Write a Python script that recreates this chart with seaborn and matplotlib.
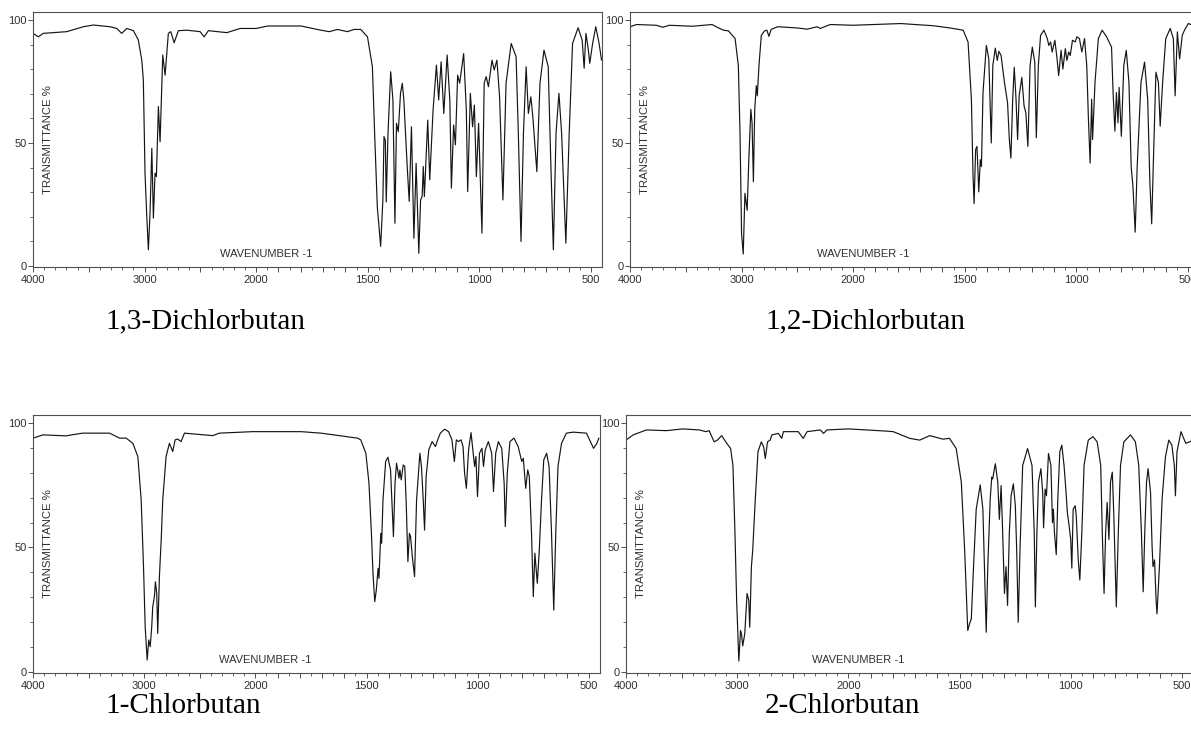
import numpy as np
import pandas as pd
import matplotlib
matplotlib.use("Agg")
import matplotlib.pyplot as plt
from matplotlib.ticker import FixedLocator, FuncFormatter
import seaborn as sns

# ---------------- data ----------------
titles = ["1,3-Dichlorbutan", "1,2-Dichlorbutan", "1-Chlorbutan", "2-Chlorbutan"]

wn_13 = [4000, 3952, 3908, 3818, 3698, 3549, 3459, 3309, 3249, 3205, 3160, 3100, 3056, 3025, 3011,
         2996, 2980, 2966, 2951, 2935, 2921, 2906, 2894, 2876, 2861, 2837, 2816, 2787, 2765, 2735,
         2697, 2622, 2502, 2466, 2428, 2263, 2143, 2000, 1948, 1799, 1710, 1673, 1635, 1591, 1561,
         1531, 1501, 1479, 1469, 1457, 1442, 1432, 1427, 1421, 1417, 1409, 1397, 1387, 1378, 1371,
         1363, 1353, 1345, 1338, 1323, 1314, 1304, 1293, 1283, 1271, 1263, 1256, 1251, 1246, 1231,
         1222, 1207, 1192, 1182, 1171, 1159, 1144, 1132, 1125, 1115, 1107, 1097, 1088, 1070, 1058,
         1052, 1040, 1030, 1022, 1013, 1003, 988, 978, 969, 959, 943, 933, 921, 909, 894, 880, 857,
         835, 825, 813, 802, 790, 780, 769, 760, 742, 728, 710, 691, 679, 668, 656, 643, 631, 612,
         597, 582, 557, 539, 530, 522, 512, 505, 492, 478, 463, 452]
t_13 = [94.6, 93.2, 94.6, 94.9, 95.3, 97.3, 98.0, 97.3, 96.6, 94.6, 96.6, 95.7, 91.9, 83.7, 75.6,
        37.7, 20.0, 6.5, 21.4, 47.8, 19.4, 37.7, 36.3, 64.8, 50.5, 85.8, 77.6, 94.6, 95.3, 90.8,
        95.7, 95.9, 95.3, 93.2, 95.7, 94.9, 96.6, 96.6, 97.6, 97.6, 95.9, 95.3, 96.2, 95.3, 96.2,
        96.2, 93.2, 81.0, 54.0, 24.0, 7.9, 26.8, 52.6, 51.0, 26.0, 54.0, 79.0, 67.5, 17.3, 58.0,
        54.6, 70.2, 74.3, 67.5, 40.4, 26.2, 56.6, 11.2, 41.7, 5.1, 26.8, 28.2, 40.4, 28.2, 59.3,
        35.0, 63.4, 81.7, 67.5, 83.0, 62.0, 85.8, 67.5, 31.6, 57.3, 49.2, 77.6, 74.3, 86.4, 63.4,
        30.2, 70.2, 56.6, 65.4, 36.3, 58.0, 13.3, 74.3, 77.0, 72.9, 83.7, 79.7, 83.7, 68.8, 26.8,
        74.3, 90.5, 85.1, 54.0, 9.9, 54.0, 81.0, 62.0, 68.8, 60.7, 38.3, 74.3, 87.8, 81.0, 40.4,
        6.5, 54.0, 70.2, 54.0, 9.2, 54.0, 90.5, 96.9, 91.9, 80.4, 94.6, 88.5, 82.4, 90.5, 97.3,
        90.5, 83.7]

wn_12 = [4000, 3941, 3764, 3706, 3647, 3441, 3265, 3206, 3162, 3117, 3058, 3029, 3014, 3000, 2985,
         2970, 2962, 2950, 2935, 2917, 2906, 2894, 2882, 2868, 2859, 2844, 2823, 2794, 2773, 2755,
         2735, 2676, 2500, 2411, 2323, 2294, 2206, 2000, 1787, 1640, 1566, 1507, 1485, 1470, 1463,
         1458, 1451, 1445, 1437, 1430, 1425, 1418, 1403, 1392, 1381, 1374, 1363, 1354, 1347, 1337,
         1322, 1308, 1300, 1293, 1285, 1278, 1270, 1263, 1256, 1244, 1234, 1226, 1217, 1207, 1197,
         1186, 1179, 1170, 1160, 1145, 1130, 1123, 1115, 1108, 1096, 1086, 1079, 1068, 1060, 1049,
         1042, 1034, 1027, 1017, 1005, 997, 986, 975, 963, 953, 946, 938, 931, 927, 916, 901, 884,
         864, 853, 842, 835, 827, 820, 813, 808, 798, 787, 776, 764, 754, 746, 736, 727, 720, 710,
         694, 680, 670, 662, 653, 643, 632, 624, 613, 599, 579, 565, 557, 547, 537, 525, 515, 498,
         480, 450]
t_12 = [97.3, 98.2, 97.9, 97.1, 97.9, 97.5, 98.2, 96.8, 95.9, 95.6, 92.5, 81.5, 54.1, 13.0, 4.8,
        29.5, 26.7, 22.6, 43.2, 63.7, 58.2, 34.2, 63.7, 73.3, 69.2, 81.5, 93.8, 95.6, 95.9, 93.4,
        96.2, 97.3, 96.8, 96.3, 97.3, 96.6, 98.2, 97.9, 98.6, 97.7, 96.8, 95.9, 91.1, 67.8, 37.7,
        25.3, 47.3, 48.6, 30.1, 43.2, 40.4, 70.5, 89.7, 84.2, 50.0, 81.5, 88.6, 83.6, 87.3, 85.6,
        74.7, 66.4, 51.4, 43.8, 67.8, 80.8, 67.8, 51.4, 69.2, 76.7, 65.1, 62.3, 48.6, 81.5, 89.0,
        82.9, 52.1, 81.5, 93.8, 95.9, 92.5, 89.7, 91.1, 87.0, 91.8, 84.2, 77.4, 87.7, 80.1, 88.4,
        83.6, 87.0, 85.6, 91.8, 91.1, 93.2, 92.5, 87.0, 92.5, 81.5, 61.0, 41.8, 67.8, 51.4, 74.7,
        92.5, 95.9, 93.2, 91.1, 89.0, 70.5, 54.8, 70.5, 58.2, 72.6, 52.7, 81.5, 87.7, 74.7, 40.4,
        32.2, 13.7, 40.4, 54.8, 74.7, 82.9, 67.8, 33.6, 17.1, 47.3, 78.8, 74.7, 56.8, 74.7, 92.5,
        96.6, 92.5, 69.2, 95.2, 84.2, 93.8, 95.9, 98.6, 98.0, 97.0]

wn_1 = [4000, 3910, 3700, 3641, 3551, 3311, 3222, 3162, 3102, 3057, 3027, 3006, 2991, 2973, 2959,
        2946, 2932, 2923, 2908, 2899, 2887, 2878, 2863, 2847, 2833, 2803, 2773, 2743, 2722, 2698,
        2668, 2638, 2384, 2324, 2025, 1794, 1705, 1541, 1526, 1503, 1489, 1478, 1471, 1463, 1456,
        1448, 1444, 1436, 1432, 1426, 1414, 1404, 1392, 1384, 1379, 1372, 1365, 1359, 1354, 1350,
        1344, 1335, 1328, 1321, 1314, 1307, 1302, 1294, 1284, 1275, 1260, 1253, 1245, 1239, 1232,
        1220, 1205, 1190, 1180, 1168, 1149, 1131, 1116, 1105, 1096, 1086, 1075, 1066, 1059, 1051,
        1041, 1030, 1022, 1014, 1008, 1001, 992, 981, 974, 966, 952, 937, 929, 919, 907, 892, 881,
        876, 867, 855, 837, 818, 802, 795, 784, 775, 768, 758, 750, 743, 738, 732, 723, 713, 703,
        690, 679, 668, 658, 649, 639, 623, 601, 571, 511, 497, 479, 464, 455]
t_1 = [94.0, 95.3, 94.9, 95.4, 96.0, 96.0, 94.0, 94.0, 91.9, 86.6, 69.1, 42.3, 18.1, 4.7, 12.8,
       10.1, 18.1, 26.2, 30.2, 36.2, 31.5, 15.4, 38.3, 53.0, 69.1, 86.6, 91.9, 88.6, 93.3, 93.6,
       92.6, 96.0, 95.0, 96.0, 96.6, 96.6, 96.0, 94.0, 93.3, 87.9, 75.8, 55.7, 39.6, 28.2, 32.9,
       41.6, 37.6, 55.7, 51.7, 69.1, 84.6, 86.3, 81.2, 65.1, 54.4, 75.8, 83.9, 80.5, 77.9, 81.2,
       77.2, 83.2, 82.6, 66.4, 44.3, 55.7, 54.4, 46.3, 38.3, 69.1, 87.9, 82.6, 69.1, 57.0, 78.5,
       89.3, 92.6, 90.6, 93.3, 96.0, 97.6, 96.6, 93.3, 84.6, 93.3, 92.6, 93.3, 90.6, 79.9, 73.8,
       89.3, 96.2, 89.3, 82.6, 86.6, 70.5, 87.9, 89.9, 82.6, 89.3, 92.6, 87.9, 72.5, 87.9, 92.6,
       89.9, 75.8, 58.4, 79.9, 92.6, 94.0, 90.6, 84.6, 85.9, 73.8, 81.2, 78.5, 55.7, 30.2, 47.7,
       42.3, 35.6, 49.0, 69.1, 85.2, 87.9, 82.6, 55.7, 24.8, 55.7, 82.6, 91.9, 96.0, 96.4, 96.0,
       93.3, 89.9, 91.9, 94.0]

wn_2 = [4000, 3935, 3816, 3638, 3490, 3341, 3281, 3252, 3207, 3178, 3139, 3103, 3059, 3038, 3020,
        3005, 2985, 2970, 2961, 2950, 2932, 2911, 2896, 2887, 2872, 2860, 2837, 2813, 2783, 2762,
        2747, 2727, 2703, 2688, 2629, 2599, 2584, 2451, 2406, 2371, 2252, 2223, 2193, 2000, 1843,
        1798, 1724, 1679, 1634, 1575, 1545, 1515, 1492, 1477, 1463, 1455, 1447, 1437, 1425, 1407,
        1395, 1388, 1380, 1373, 1362, 1355, 1351, 1339, 1328, 1321, 1313, 1306, 1298, 1291, 1284,
        1276, 1268, 1258, 1249, 1243, 1236, 1228, 1216, 1194, 1174, 1164, 1159, 1152, 1145, 1134,
        1126, 1122, 1115, 1109, 1100, 1089, 1082, 1078, 1073, 1065, 1058, 1049, 1040, 1030, 1022,
        1015, 1007, 1000, 995, 989, 980, 975, 966, 959, 950, 940, 921, 900, 881, 865, 858, 850, 843,
        836, 828, 821, 813, 806, 795, 786, 776, 761, 731, 709, 694, 682, 674, 667, 659, 652, 641,
        634, 630, 623, 616, 612, 601, 589, 574, 559, 545, 534, 529, 522, 504, 492, 482, 466, 450]
t_2 = [93.2, 95.3, 97.3, 97.0, 97.7, 97.3, 96.6, 97.0, 92.5, 93.2, 95.0, 92.5, 89.8, 83.0, 55.9,
       28.8, 4.3, 16.6, 15.2, 10.4, 15.2, 31.5, 28.8, 17.9, 42.3, 49.1, 69.5, 88.5, 92.5, 90.5,
       85.8, 92.5, 93.2, 95.3, 95.9, 93.9, 96.6, 96.6, 93.9, 96.6, 97.3, 95.9, 97.3, 97.7, 96.9,
       96.6, 93.9, 93.2, 95.0, 93.6, 93.9, 89.8, 76.3, 49.1, 16.6, 19.3, 21.3, 42.3, 65.4, 75.2,
       65.4, 42.3, 15.9, 42.3, 69.5, 78.3, 77.6, 83.7, 76.3, 61.3, 74.9, 55.9, 31.5, 42.3, 26.7,
       55.9, 70.8, 75.6, 66.8, 49.1, 19.9, 49.1, 83.0, 89.8, 83.0, 55.9, 26.1, 55.9, 76.3, 81.7,
       72.2, 57.9, 73.5, 70.8, 87.8, 83.0, 60.0, 65.4, 55.9, 47.1, 69.5, 88.5, 91.2, 83.0, 73.5,
       64.0, 58.6, 53.2, 41.7, 65.4, 66.8, 62.7, 45.0, 36.9, 55.9, 83.0, 93.2, 94.6, 92.5, 83.0,
       55.9, 31.5, 55.9, 68.1, 53.2, 76.3, 80.3, 62.7, 26.1, 55.9, 83.0, 92.5, 95.3, 92.5, 83.0,
       55.9, 32.2, 55.9, 76.3, 81.7, 72.2, 50.5, 42.3, 45.0, 28.8, 23.3, 42.3, 69.5, 86.4, 93.2,
       91.2, 83.0, 70.8, 88.5, 96.6, 93.9, 91.9, 92.5, 93.0]

major_labels = [4000, 3000, 2000, 1500, 1000, 500]

# ---------------- style ----------------
sns.set_theme(style="white")
plt.rcParams["font.family"] = ["Liberation Sans", "DejaVu Sans"]

W, H = 1191, 740
fig = plt.figure(figsize=(W / 100, H / 100), dpi=100)


def fwd(x):
    x = np.asarray(x, dtype=float)
    return np.where(x > 2000, 2000 + (x - 2000) / 2.0, x)


def inv(y):
    y = np.asarray(y, dtype=float)
    return np.where(y > 2000, 2000 + (y - 2000) * 2.0, y)


def frac(l, t, r, b):
    return [l / W, 1 - b / H, (r - l) / W, (b - t) / H]


panels = [
    (frac(33, 12, 602, 267), wn_13, t_13),
    (frac(630, 12, 1199, 267), wn_12, t_12),
    (frac(33, 415, 600, 673), wn_1, t_1),
    (frac(626, 415, 1193, 673), wn_2, t_2),
]

spine_col = "#505050"
text_col = "#303030"

for rect, wn, tr in panels:
    ax = fig.add_axes(rect)
    ax.set_xscale("function", functions=(fwd, inv))
    df = pd.DataFrame({"wn": wn, "T": tr})
    sns.lineplot(data=df, x="wn", y="T", ax=ax, color="#151515", lw=0.85,
                 estimator=None, sort=False)
    ax.set_xlim(4000, 450)
    ax.set_ylim(-0.5, 103.3)
    ax.set_xlabel("")
    ax.set_ylabel("")
    maj = [4000, 3500, 3000, 2500, 2000] + list(range(1900, 450, -100))
    mnr = list(range(3900, 2000, -100)) + list(range(1950, 450, -50))
    ax.xaxis.set_major_locator(FixedLocator(maj))
    ax.xaxis.set_minor_locator(FixedLocator(mnr))
    ax.xaxis.set_major_formatter(FuncFormatter(
        lambda v, p: f"{int(round(v))}" if int(round(v)) in major_labels else ""))
    ax.yaxis.set_major_locator(FixedLocator([0, 50, 100]))
    ax.yaxis.set_minor_locator(FixedLocator(list(range(10, 100, 10))))
    ax.tick_params(axis="both", which="major", direction="out", length=3.5, width=0.7,
                   color=spine_col, labelsize=8, labelcolor=text_col, pad=2,
                   bottom=True, left=True)
    ax.tick_params(axis="both", which="minor", direction="out", length=2, width=0.6,
                   color=spine_col, bottom=True, left=True)
    ax.tick_params(axis="y", which="major", pad=1)
    for s in ax.spines.values():
        s.set_color(spine_col)
        s.set_linewidth(0.8)
    ax.text(0.026, 0.5, "TRANSMITTANCE %", transform=ax.transAxes, rotation=90,
            ha="center", va="center", fontsize=8.2, color=text_col)
    ax.text(0.41, 0.05, "WAVENUMBER -1", transform=ax.transAxes,
            ha="center", va="center", fontsize=8, color=text_col)
    ax.set_facecolor("white")

title_pos = [(105, 321), (765, 321), (105, 706), (765, 706)]
for (x, y), name in zip(title_pos, titles):
    fig.text(x / W, 1 - y / H, name, ha="left", va="center", fontsize=21,
             family=["Liberation Serif", "DejaVu Serif"], color="black")

fig.savefig("out.png", dpi=100, facecolor="white")
